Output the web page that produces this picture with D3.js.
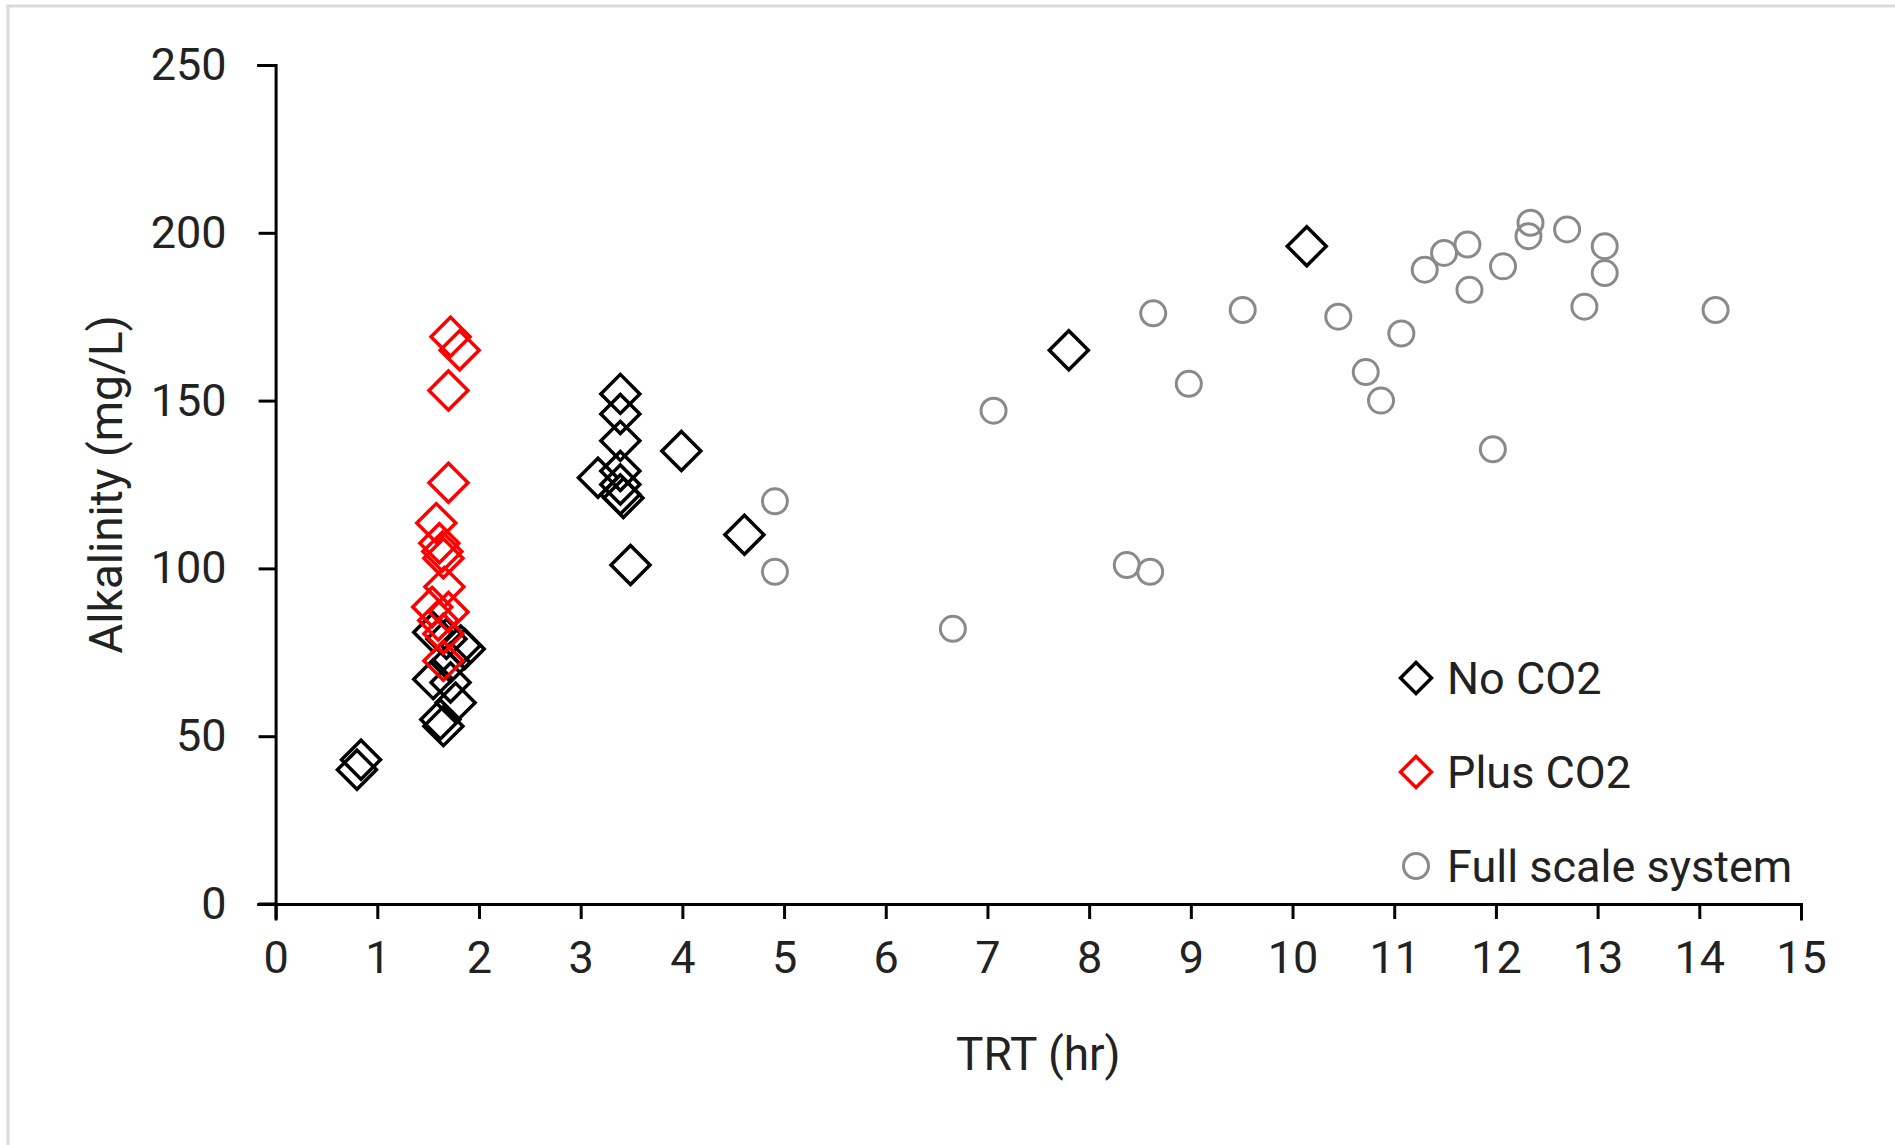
<!DOCTYPE html>
<html>
<head>
<meta charset="utf-8">
<script src="https://cdnjs.cloudflare.com/ajax/libs/d3/7.8.5/d3.min.js"></script>
<style>
  body { margin: 0; background: #fff; overflow: hidden; }
  svg text { font-family: Roboto, "Liberation Sans", sans-serif; fill: #222; }
</style>
</head>
<body>
<svg id="chart" width="1895" height="1145"></svg>
<script>
"use strict";

// TRT (hr) vs alkalinity (mg/L)
var noCO2 = [
  [0.80, 40], [0.84, 43],
  [1.55, 81], [1.68, 79], [1.82, 77], [1.86, 76], [1.72, 72], [1.55, 67],
  [1.72, 66], [1.77, 60], [1.62, 55], [1.65, 53],
  [3.39, 152], [3.39, 146], [3.39, 138], [3.39, 129], [3.17, 127], [3.39, 125],
  [3.39, 122], [3.42, 121], [3.49, 101], [3.99, 135], [4.61, 110],
  [7.80, 165], [10.14, 196]
];
var plusCO2 = [
  [1.72, 169], [1.81, 165], [1.70, 153], [1.70, 125.5], [1.58, 113.5],
  [1.61, 107.5], [1.64, 105], [1.65, 103], [1.66, 94.5], [1.54, 88.5],
  [1.70, 87], [1.60, 84.5], [1.65, 80.5], [1.65, 72.5]
];
var fullScale = [
  [4.91, 120], [4.91, 99], [6.66, 82], [7.06, 147], [8.37, 101], [8.60, 99],
  [8.63, 176], [8.98, 155], [9.51, 177], [10.45, 175], [10.72, 158.5],
  [10.87, 150], [11.07, 170], [11.30, 189], [11.49, 194], [11.72, 196.5],
  [11.74, 183], [12.07, 190], [11.97, 135.5], [12.34, 203], [12.32, 199],
  [12.70, 201], [13.07, 196], [13.07, 188], [12.87, 178], [14.16, 177]
];
var xTicks = d3.range(0, 16, 1);
var yTicks = [0, 50, 100, 150, 200, 250];
var seriesNames = ["No CO2", "Plus CO2", "Full scale system"];

var svg = d3.select("#chart");

// outer chart border (right and bottom edges fall outside the picture)
svg.append("rect")
    .attr("x", 8).attr("y", 6)
    .attr("width", 1900).attr("height", 1150)
    .style("fill", "none")
    .style("stroke", "#d9d9d9")
    .style("stroke-width", 3);

var x = d3.scaleLinear().domain([0, 15]).range([275.6, 1801]);
var y = d3.scaleLinear().domain([0, 250]).range([904, 65]);

var yAxis = svg.append("g")
    .attr("transform", "translate(" + x(0) + ",0)")
    .call(d3.axisLeft(y).tickValues(yTicks).tickSize(17).tickPadding(32));
var xAxis = svg.append("g")
    .attr("transform", "translate(0," + y(0) + ")")
    .call(d3.axisBottom(x).tickValues(xTicks).tickSize(15).tickPadding(22));

[xAxis, yAxis].forEach(function (ax) {
  ax.selectAll("path, line").style("stroke", "#000").style("stroke-width", 3);
  ax.select(".domain").attr("stroke-linecap", "square");
  ax.selectAll("text")
      .style("font-size", "45px")
      .style("font-family", "Roboto, sans-serif")
      .style("fill", "#222");
});
// x axis line also runs under the y-axis tick
svg.append("line")
    .attr("x1", x(0) - 17).attr("x2", x(0))
    .attr("y1", y(0)).attr("y2", y(0))
    .style("stroke", "#000").style("stroke-width", 3);

svg.append("text")
    .attr("transform", "translate(106," + ((y(0) + y(250)) / 2) + ") rotate(-90)")
    .attr("text-anchor", "middle")
    .attr("dominant-baseline", "central")
    .style("font-size", "46px")
    .text("Alkalinity (mg/L)");

svg.append("text")
    .attr("x", (x(0) + x(15)) / 2)
    .attr("y", 1054)
    .attr("text-anchor", "middle")
    .attr("dominant-baseline", "central")
    .style("font-size", "46px")
    .text("TRT (hr)");

var diamond = d3.symbol().type(d3.symbolSquare).size(760);
var diamondSmall = d3.symbol().type(d3.symbolSquare).size(480);
var circle = d3.symbol().type(d3.symbolCircle).size(Math.PI * 12.5 * 12.5);

var series = [
  { name: seriesNames[0], data: noCO2, sym: diamond, legendSym: diamondSmall, color: "#000", rot: 45, sw: 3.5 },
  { name: seriesNames[1], data: plusCO2, sym: diamond, legendSym: diamondSmall, color: "#ff0000", rot: 45, sw: 3.5 },
  { name: seriesNames[2], data: fullScale, sym: circle, legendSym: circle, color: "#8a8a8a", rot: 0, sw: 3 }
];

series.forEach(function (s) {
  svg.append("g").selectAll("path")
      .data(s.data)
      .enter().append("path")
      .attr("d", s.sym())
      .attr("transform", function (d) {
        return "translate(" + x(d[0]) + "," + y(d[1]) + ") rotate(" + s.rot + ")";
      })
      .style("fill", "none")
      .style("stroke", s.color)
      .style("stroke-width", s.sw);
});

// legend
var legend = svg.append("g").attr("transform", "translate(1416,678)");
series.forEach(function (s, i) {
  var row = legend.append("g").attr("transform", "translate(0," + (i * 94) + ")");
  row.append("path")
      .attr("d", s.legendSym())
      .attr("transform", "rotate(" + s.rot + ")")
      .style("fill", "none")
      .style("stroke", s.color)
      .style("stroke-width", s.sw);
  row.append("text")
      .attr("x", 31)
      .attr("dominant-baseline", "central")
      .style("font-size", "45px")
      .text(s.name);
});
</script>
</body>
</html>
